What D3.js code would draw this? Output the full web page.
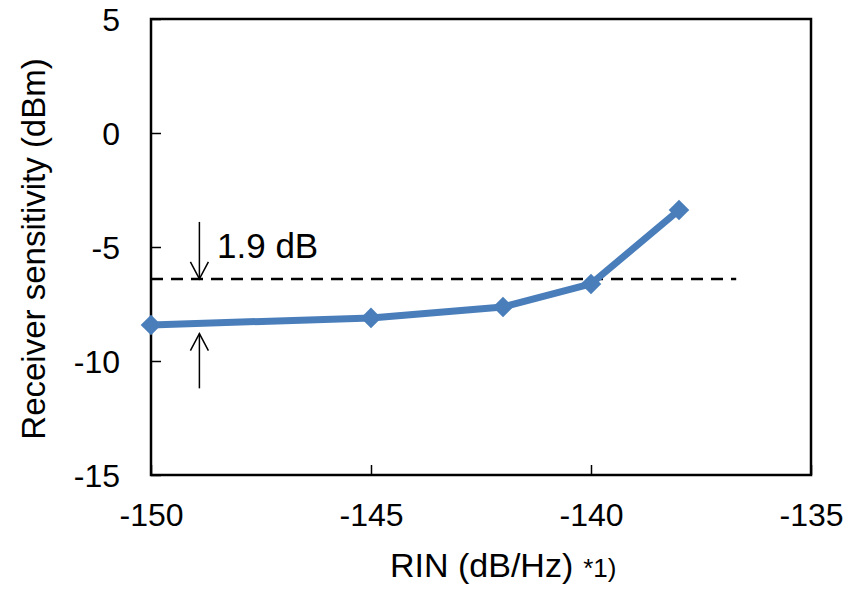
<!DOCTYPE html>
<html>
<head>
<meta charset="utf-8">
<script src="https://cdn.jsdelivr.net/npm/d3@7"></script>
<style>
  body { margin: 0; background: #fff; }
  text { font-family: "Liberation Sans", Arial, sans-serif; fill: #000; }
</style>
</head>
<body>
<svg id="chart-svg"></svg>
<script>
const width = 852
const height = 589
const margin = {top: 19, right: 41, bottom: 114, left: 151}

// data
const rin = [-150, -145, -142, -140, -138]
const sensitivity = [-8.42, -8.11, -7.63, -6.62, -3.38]
const xTicks = [-150, -145, -140, -135]
const yTicks = [5, 0, -5, -10, -15]
const refLevel = -6.4
const refRange = [-150, -136.7]
const arrowX = -148.9
const downArrow = [-3.9, -6.4]
const upArrow = [-11.2, -8.8]

const svg = d3.select('svg#chart-svg').attr('width', width).attr('height', height)

const x = d3.scaleLinear().domain([-150, -135]).range([margin.left, width - margin.right])
const y = d3.scaleLinear().domain([-15, 5]).range([height - margin.bottom, margin.top])

// frame
svg.append('rect')
  .attr('x', x(-150)).attr('y', y(5))
  .attr('width', x(-135) - x(-150)).attr('height', y(-15) - y(5))
  .attr('fill', 'none').attr('stroke', '#000').attr('stroke-width', 2.5)

// axes with inward ticks, plain hyphen for negatives
const fmt = d => String(d)
const xAxis = svg.append('g')
  .attr('transform', `translate(0,${y(-15)})`)
  .call(d3.axisBottom(x).tickValues(xTicks).tickFormat(fmt).tickSizeInner(-10).tickSizeOuter(0).tickPadding(22))
xAxis.select('.domain').remove()
xAxis.selectAll('line').attr('stroke-width', 1.5)
xAxis.selectAll('text').attr('font-size', 32).attr('dy', '0.9em')

const yAxis = svg.append('g')
  .attr('transform', `translate(${x(-150)},0)`)
  .call(d3.axisLeft(y).tickValues(yTicks).tickFormat(fmt).tickSizeInner(-10).tickSizeOuter(0).tickPadding(31))
yAxis.select('.domain').remove()
yAxis.selectAll('line').attr('stroke-width', 1.5)
yAxis.selectAll('text').attr('font-size', 32).attr('dy', '0.35em')

// axis titles
svg.append('text')
  .attr('transform', `translate(45,${(y(5) + y(-15)) / 2 + 2}) rotate(-90)`)
  .attr('text-anchor', 'middle')
  .attr('font-size', 33)
  .text('Receiver sensitivity (dBm)')

const xt = svg.append('text')
  .attr('x', 390).attr('y', 577)
  .attr('font-size', 34)
xt.append('tspan').text('RIN (dB/Hz)')
xt.append('tspan').attr('font-size', 26).attr('dx', 10).text('*1)')

// reference dashed line
svg.append('line')
  .attr('x1', x(refRange[0])).attr('x2', x(refRange[1]))
  .attr('y1', y(refLevel)).attr('y2', y(refLevel))
  .attr('stroke', '#000').attr('stroke-width', 2.5)
  .attr('stroke-dasharray', '12,8')

// arrows
function arrow(from, to) {
  const xa = x(arrowX)
  const y0 = y(from), y1 = y(to)
  const dir = y1 > y0 ? 1 : -1
  const g = svg.append('g').attr('stroke', '#000').attr('stroke-width', 1.5).attr('fill', 'none')
  g.append('line').attr('x1', xa).attr('x2', xa).attr('y1', y0).attr('y2', y1)
  g.append('path').attr('d', `M${xa - 9},${y1 - dir * 17}L${xa},${y1}L${xa + 9},${y1 - dir * 17}`)
}
arrow(downArrow[0], downArrow[1])
arrow(upArrow[0], upArrow[1])

svg.append('text')
  .attr('x', 217).attr('y', 258)
  .attr('font-size', 35)
  .text('1.9 dB')

// series
const points = rin.map((r, i) => ({x: r, y: sensitivity[i]}))
const line = d3.line().x(d => x(d.x)).y(d => y(d.y))
svg.append('path')
  .datum(points)
  .attr('d', line)
  .attr('fill', 'none')
  .attr('stroke', '#4a7ebb')
  .attr('stroke-width', 7)
  .attr('stroke-linejoin', 'round')

svg.selectAll('path.marker').data(points).enter().append('path')
  .attr('class', 'marker')
  .attr('transform', d => `translate(${x(d.x)},${y(d.y)})`)
  .attr('d', d3.symbol().type(d3.symbolDiamond2).size(270))
  .attr('fill', '#4a7ebb')
</script>
</body>
</html>
